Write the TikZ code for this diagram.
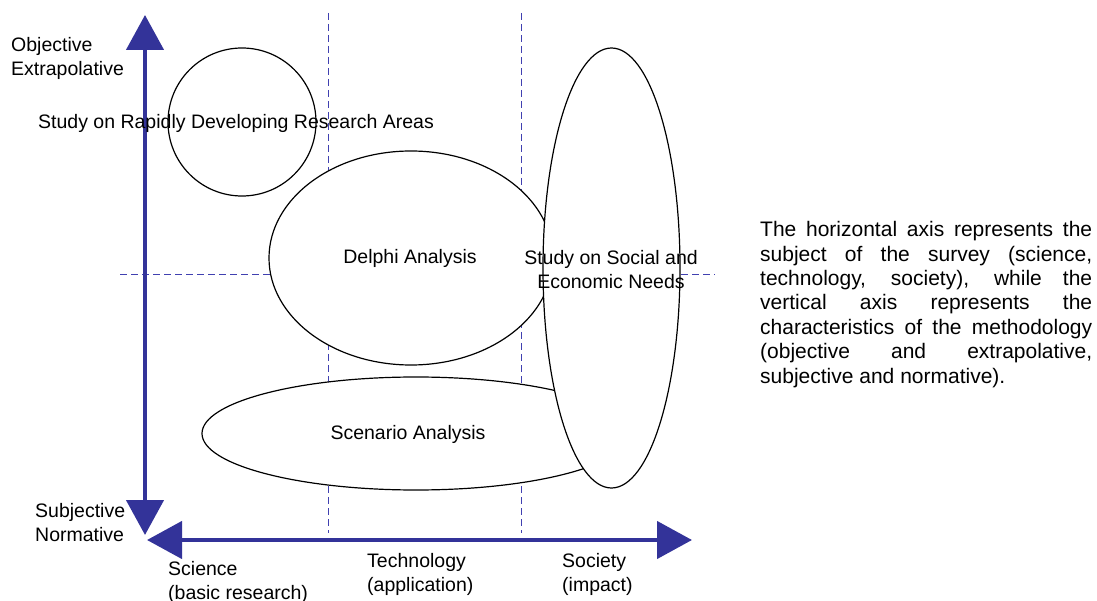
\documentclass[tikz,border=0pt]{standalone}
\usepackage{fontspec}
\setmainfont{Liberation Sans}
\usetikzlibrary{shapes.geometric,arrows.meta}
\definecolor{axisblue}{RGB}{51,51,153}
\definecolor{dashblue}{RGB}{64,64,176}
\begin{document}
\begin{tikzpicture}[x=1pt,y=-1pt,
  lbl/.style={font=\fontsize{19.5}{24}\selectfont, inner sep=0pt, align=left},
  blob/.style={draw=black, line width=1.2pt, fill=white, inner sep=0pt},
  guide/.style={draw=dashblue, line width=1pt, dash pattern=on 7pt off 4pt},
  axisline/.style={draw=axisblue, line width=4.5pt,
    {Triangle[length=35pt,width=37pt]}-{Triangle[length=35pt,width=37pt]}}
]
\useasboundingbox (0,0) rectangle (1097,601);
\fill[white] (0,0) rectangle (1097,601);

% guide lines
\coordinate (g1t) at (328,13);  \coordinate (g1b) at (328,533);
\coordinate (g2t) at (521,13);  \coordinate (g2b) at (521,533);
\coordinate (hl) at (120,275);  \coordinate (hr) at (715,275);
\draw[guide] (g1t) -- (g1b);
\draw[guide] (g2t) -- (g2b);
\draw[guide] (hl) -- (hr);

% shapes
\node[blob, circle, minimum size=148pt] (rapid) at (242,122) {};
\node[blob, ellipse, minimum width=284pt, minimum height=214pt] (delphi) at (411,258) {};
\node[blob, ellipse, minimum width=428pt, minimum height=113pt] (scen) at (416,433.5) {};
\node[blob, ellipse, minimum width=137pt, minimum height=440pt] (social) at (611.5,268) {};

% axes
\coordinate (yt) at (145,15);  \coordinate (yb) at (145,535);
\coordinate (xl) at (147,540); \coordinate (xr) at (692,540);
\draw[axisline] (yt) -- (yb);
\draw[axisline] (xl) -- (xr);

% labels (base anchor = baseline of the last line)
\node[lbl, anchor=base west] (rapidtxt) at (38,129) {Study on Rapidly Developing Research Areas};
\node[lbl, anchor=center] (delphitxt) at (410,258) {Delphi Analysis};
\node[lbl, anchor=center] (scentxt) at (408,434) {Scenario Analysis};
\node[lbl, align=center, anchor=center] (socialtxt) at (611,270) {Study on Social and\\Economic Needs};

\node[lbl, anchor=base west] (obj) at (11,76) {Objective\\Extrapolative};
\node[lbl, anchor=base west] (subj) at (35,541) {Subjective\\Normative};
\node[lbl, anchor=base west] (sci) at (168,599) {Science\\(basic research)};
\node[lbl, anchor=base west] (tech) at (367,591) {Technology\\(application)};
\node[lbl, anchor=base west] (soc) at (562,591) {Society\\(impact)};

\node[lbl, font=\fontsize{21}{24.4}\selectfont, anchor=base west] (para) at (760,383.1)
 {\makebox[332pt][s]{The horizontal axis represents the}\\
  \makebox[332pt][s]{subject of the survey (science,}\\
  \makebox[332pt][s]{technology, society), while the}\\
  \makebox[332pt][s]{vertical axis represents the}\\
  \makebox[332pt][s]{characteristics of the methodology}\\
  \makebox[332pt][s]{(objective and extrapolative,}\\
  subjective and normative).};
\end{tikzpicture}
\end{document}
